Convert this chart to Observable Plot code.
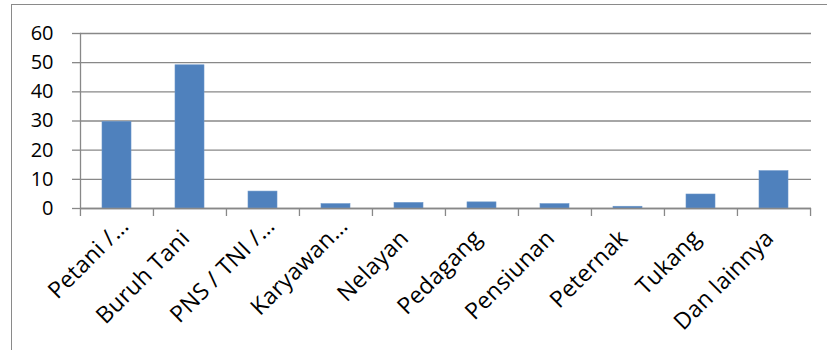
<!DOCTYPE html>
<html>
<head>
<meta charset="utf-8">
<script src="https://cdn.jsdelivr.net/npm/d3@7"></script>
<script src="https://cdn.jsdelivr.net/npm/@observablehq/plot@0.6"></script>
<style>
  html, body { margin: 0; padding: 0; background: #fff; }
  #wrap { position: relative; width: 827px; height: 350px; overflow: hidden; }
  #border { position: absolute; left: 11px; top: 4px; right: -10px; bottom: -10px;
            border-left: 1.5px solid #8a8a8a; border-top: 1.5px solid #8a8a8a; }
  #chart { position: absolute; left: 0; top: 0; }
  svg text { fill: #000; }
  .xlab text { letter-spacing: 0.3px; }
</style>
</head>
<body>
<div id="wrap"><div id="border"></div><div id="chart"></div></div>
<script>
const categories = ["Petani /…", "Buruh Tani", "PNS / TNI /…", "Karyawan…", "Nelayan",
                    "Pedagang", "Pensiunan", "Peternak", "Tukang", "Dan lainnya"];
const values = [29.7, 49.1, 5.8, 1.5, 1.9, 2.1, 1.5, 0.6, 4.8, 12.8];
const yTicks = [0, 10, 20, 30, 40, 50, 60];

const data = categories.map((c, i) => ({category: c, value: values[i]}));

const W = 827, H = 350, mL = 80, mR = 16, mT = 33, mB = 142;
const step = (W - mL - mR) / categories.length;
const font = "Open Sans, sans-serif";
const truncated = categories.filter(c => c.endsWith("…"));
const full = categories.filter(c => !c.endsWith("…"));

const chart = Plot.plot({
  width: W, height: H,
  marginLeft: mL, marginRight: mR, marginTop: mT, marginBottom: mB,
  style: {fontFamily: font, background: "transparent"},
  x: {domain: categories, paddingInner: 0.6, paddingOuter: 0.3, axis: null},
  y: {domain: [0, 60], axis: null},
  marks: [
    Plot.gridY(yTicks, {stroke: "#888", strokeOpacity: 1, strokeWidth: 1.3}),
    Plot.axisY(yTicks, {label: null, tickSize: 8, tickPadding: 19, stroke: "#888", strokeWidth: 1.3, fontSize: 20, tickFormat: d => d}),
    Plot.barY(data, {x: "category", y: "value", fill: "#4F81BD", stroke: "#6a95c8", strokeWidth: 0.6}),
    Plot.frame({anchor: "left", stroke: "#888", strokeWidth: 1.3}),
    Plot.ruleY([0], {stroke: "#888", strokeWidth: 1.3}),
    Plot.axisX(categories, {label: null, tickSize: 8, tickFormat: () => "", stroke: "#888", strokeWidth: 1.3, dx: -step / 2}),
    Plot.axisX(categories.slice(-1), {label: null, tickSize: 8, tickFormat: () => "", stroke: "#888", strokeWidth: 1.3, dx: step / 2}),
    Plot.text(full, {x: d => d, frameAnchor: "bottom", rotate: -45, textAnchor: "end",
                     fontSize: 23, dx: 1, dy: 31, fill: "#000", className: "xlab"}),
    Plot.text(truncated, {x: d => d, frameAnchor: "bottom", rotate: -45, textAnchor: "end",
                     fontSize: 23, dx: 13, dy: 19, fill: "#000", className: "xlab"})
  ]
});
document.getElementById("chart").appendChild(chart);
</script>
</body>
</html>
